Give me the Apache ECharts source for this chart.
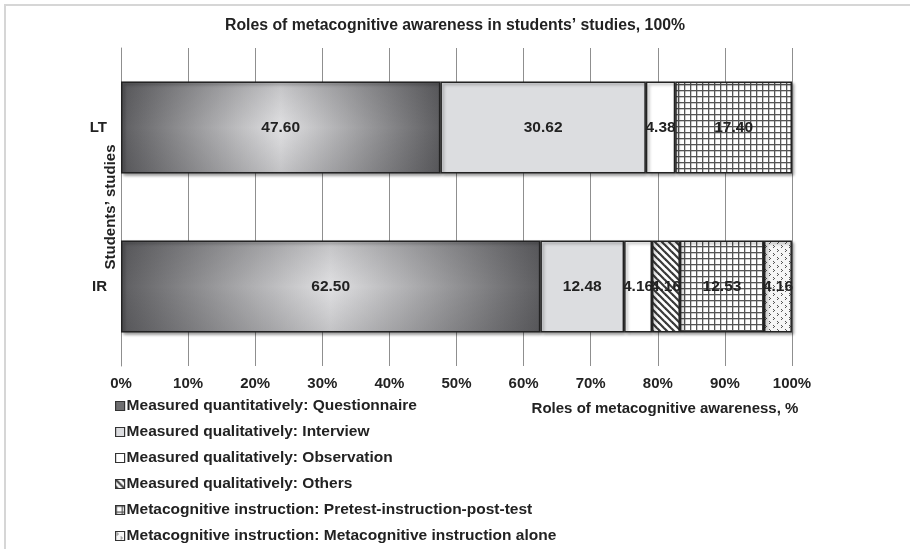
<!DOCTYPE html>
<html>
<head>
<meta charset="utf-8">
<style>
  html, body { margin: 0; padding: 0; background: #fff; }
  #chart { width: 910px; height: 549px; }
</style>
<script src="https://cdn.jsdelivr.net/npm/echarts@6/dist/echarts.min.js"></script>
</head>
<body>
<div id="chart"></div>
<script>
// Study groups (bottom to top on the category axis)
const studies = ['IR', 'LT'];

// Share of each role of metacognitive awareness, % (IR, LT)
const questionnaire = [62.50, 47.60];
const interview     = [12.48, 30.62];
const observation   = [4.16, 4.38];
const others        = [4.16, null];
const pretestPost   = [12.53, 17.40];
const instrAlone    = [4.16, null];

const seriesNames = [
  'Measured quantitatively: Questionnaire',
  'Measured qualitatively: Interview',
  'Measured qualitatively: Observation',
  'Measured qualitatively: Others',
  'Metacognitive instruction: Pretest-instruction-post-test',
  'Metacognitive instruction: Metacognitive instruction alone'
];

const percentTicks = [0, 10, 20, 30, 40, 50, 60, 70, 80, 90, 100];

const FONT = '"Liberation Sans", Arial, sans-serif';
const FS = 15;
const FS_TEXT = 15.5;

// Small repeating tiles used as fill patterns
function makeTile(w, h, paint) {
  const c = document.createElement('canvas');
  c.width = w; c.height = h;
  paint(c.getContext('2d'), w, h);
  return c;
}

const stripeTile = makeTile(7, 7, (g, w, h) => {
  g.fillStyle = '#ffffff';
  g.fillRect(0, 0, w, h);
  g.strokeStyle = '#3a3a3a';
  g.lineWidth = 2.2;
  for (let o = -w; o <= w; o += w) {
    g.beginPath();
    g.moveTo(o - 1, -1);
    g.lineTo(o + w + 1, h + 1);
    g.stroke();
  }
});

const gridTile = makeTile(6, 6, (g, w, h) => {
  g.fillStyle = '#ffffff';
  g.fillRect(0, 0, w, h);
  g.fillStyle = '#555555';
  g.fillRect(0, 0, w, 1.3);
  g.fillRect(0, 0, 1.3, h);
});

const dotTile = makeTile(8, 8, (g, w, h) => {
  g.fillStyle = '#f6f6f6';
  g.fillRect(0, 0, w, h);
  g.fillStyle = '#555555';
  g.fillRect(1, 1, 1, 1);
  g.fillRect(2, 2, 1, 1);
  g.fillRect(1, 3, 1, 1);
  g.fillRect(5, 5, 1, 1);
  g.fillRect(6, 6, 1, 1);
  g.fillRect(5, 7, 1, 1);
});

const shadeFill = {
  type: 'linear', x: 0, y: 0, x2: 1, y2: 0,
  colorStops: [
    { offset: 0, color: '#5e5e61' },
    { offset: 0.5, color: '#e0e0e2' },
    { offset: 1, color: '#5e5e61' }
  ]
};

const edgeShade = {
  type: 'linear', x: 0, y: 0, x2: 0, y2: 1,
  colorStops: [
    { offset: 0, color: 'rgba(40,40,44,0.16)' },
    { offset: 0.5, color: 'rgba(40,40,44,0)' },
    { offset: 1, color: 'rgba(40,40,44,0.16)' }
  ]
};

const fills = [
  shadeFill,
  '#dcdde0',
  '#ffffff',
  { image: stripeTile, repeat: 'repeat' },
  { image: gridTile, repeat: 'repeat' },
  { image: dotTile, repeat: 'repeat' }
];
const legendFills = [
  '#6e6e70', '#dcdde0', '#ffffff',
  { image: stripeTile, repeat: 'repeat' },
  { image: gridTile, repeat: 'repeat' },
  { image: dotTile, repeat: 'repeat' }
];
const values = [questionnaire, interview, observation, others, pretestPost, instrAlone];

const labelStyle = {
  show: true,
  position: 'inside',
  color: '#222',
  fontFamily: FONT,
  fontWeight: 'bold',
  fontSize: FS_TEXT,
  formatter: p => p.value.toFixed(2)
};

const series = values.map((arr, i) => ({
  name: seriesNames[i],
  type: 'bar',
  stack: 'roles',
  barWidth: '58%',
  data: arr,
  itemStyle: {
    color: fills[i],
    borderColor: '#222',
    borderWidth: 1.5,
    shadowColor: 'rgba(0,0,0,0.35)',
    shadowBlur: 3,
    shadowOffsetX: 2,
    shadowOffsetY: 2
  },
  label: i === 0 ? { show: false } : labelStyle
}));

// Vertical edge darkening over the questionnaire segment, carrying its label
series.push({
  name: 'shade',
  type: 'bar',
  stack: 'shade',
  barWidth: '58%',
  barGap: '-100%',
  silent: true,
  z: 3,
  data: questionnaire,
  itemStyle: { color: edgeShade, borderWidth: 0 },
  label: labelStyle
});

const chart = echarts.init(document.getElementById('chart'));
chart.setOption({
  animation: false,
  backgroundColor: '#ffffff',
  title: {
    text: 'Roles of metacognitive awareness in students’ studies, 100%',
    left: 'center',
    top: 18,
    padding: 0,
    textStyle: { fontFamily: FONT, fontWeight: 'bold', fontSize: 15.8, color: '#222' }
  },
  graphic: [
    {
      type: 'rect',
      shape: { x: 5, y: 5, width: 1200, height: 1200 },
      style: { fill: 'none', stroke: '#d6d6d6', lineWidth: 2 },
      silent: true
    },
    {
      type: 'text',
      x: 665,
      y: 409,
      style: {
        text: 'Roles of metacognitive awareness, %',
        align: 'center',
        verticalAlign: 'middle',
        fontFamily: FONT, fontWeight: 'bold', fontSize: FS, fill: '#222'
      }
    }
  ],
  legend: {
    orient: 'vertical',
    left: 115,
    top: 398,
    height: 151,
    padding: 0,
    icon: 'rect',
    itemWidth: 9,
    itemHeight: 9,
    itemGap: 10,
    selectedMode: false,
    textStyle: { fontFamily: FONT, fontWeight: 'bold', fontSize: FS_TEXT, color: '#222', lineHeight: 16, padding: [0, 0, 0, -3] },
    data: seriesNames.map((n, i) => ({
      name: n,
      itemStyle: { color: legendFills[i], borderColor: '#333', borderWidth: 1.2, shadowBlur: 0, shadowOffsetX: 0, shadowOffsetY: 0 }
    }))
  },
  grid: { left: 121, right: 118, top: 48, bottom: 183, containLabel: false },
  xAxis: {
    type: 'value',
    min: percentTicks[0],
    max: percentTicks[percentTicks.length - 1],
    interval: 10,
    axisLine: { show: false },
    axisTick: { show: false },
    splitLine: { show: true, lineStyle: { color: '#8f8f8f', width: 1 } },
    axisLabel: {
      margin: 10,
      formatter: v => v + '%',
      fontFamily: FONT, fontWeight: 'bold', fontSize: FS, color: '#222'
    }
  },
  yAxis: {
    type: 'category',
    data: studies,
    name: 'Students’ studies',
    nameLocation: 'middle',
    nameGap: 3,
    nameMoveOverlap: false,
    nameTextStyle: { fontFamily: FONT, fontWeight: 'bold', fontSize: FS, color: '#222' },
    axisLine: { show: true, lineStyle: { color: '#8f8f8f', width: 1 } },
    axisTick: { show: false },
    axisLabel: { margin: 14, fontFamily: FONT, fontWeight: 'bold', fontSize: FS, color: '#222' }
  },
  series: series
});
</script>
</body>
</html>
